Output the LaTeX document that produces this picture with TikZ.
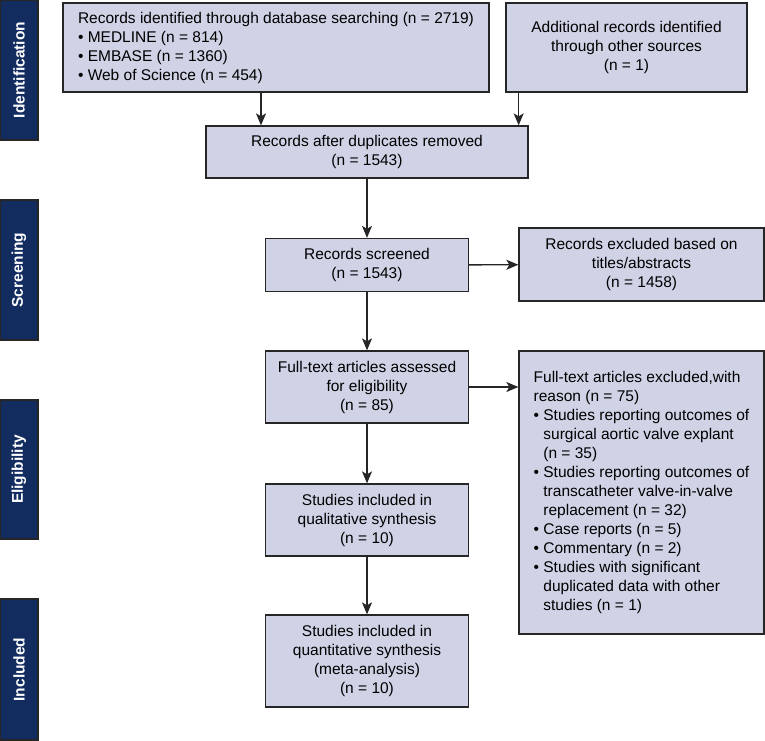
\documentclass[tikz,border=0pt]{standalone}
\usepackage{fontspec}
\setmainfont{Liberation Sans}
\usetikzlibrary{arrows.meta}
\definecolor{boxfill}{HTML}{D0D3E6}
\definecolor{phasefill}{HTML}{132C5F}
\definecolor{edge}{HTML}{262626}
\tikzset{
  box/.style={draw=edge, fill=boxfill, line width=1.3pt, inner sep=0pt, align=center,
    font=\fontsize{15.5}{19}\selectfont},
  phase/.style={draw=edge, fill=phasefill, line width=1.3pt, rotate=90, text=white,
    minimum height=38pt, inner sep=0pt, font=\fontsize{15.5}{17}\selectfont\bfseries},
  flow/.style={-{Stealth[length=12pt,width=10pt,inset=3pt]}, line width=1.4pt, draw=edge}
}
\newcommand{\bul}{\textbullet\ }
\newcommand{\hng}{\phantom{\textbullet\ }}

\begin{document}
\begin{tikzpicture}[x=1pt,y=-1pt]
  \useasboundingbox (0,0) rectangle (765,740);
  % phase bars
  \node[phase, minimum width=140pt] (idf) at (19,70) {Identification};
  \node[phase, minimum width=140pt] (scr) at (19,270) {Screening};
  \node[phase, minimum width=139pt] (elg) at (19,469.5) {Eligibility};
  \node[phase, minimum width=141pt] (inc) at (19,669.5) {Included};
  % boxes
  \node[box, minimum width=426pt, minimum height=89pt, align=left] (db) at (276,47.5)
    {Records identified through database searching (n = 2719)\\
     \bul MEDLINE (n = 814)\\
     \bul EMBASE (n = 1360)\\
     \bul Web of Science (n = 454)};
  \node[box, minimum width=241pt, minimum height=89pt] (oth) at (626.5,47.5)
    {Additional records identified\\ through other sources\\ (n = 1)};
  \node[box, minimum width=322pt, minimum height=52pt] (dup) at (367,152)
    {Records after duplicates removed\\ (n = 1543)};
  \node[box, minimum width=203pt, minimum height=53pt] (scrd) at (367,265)
    {Records screened\\ (n = 1543)};
  \node[box, minimum width=245pt, minimum height=73pt] (exc) at (641.5,264.5)
    {Records excluded based on\\ titles/abstracts\\ (n = 1458)};
  \node[box, minimum width=203pt, minimum height=72pt] (full) at (367,387)
    {Full-text articles assessed\\ for eligibility\\ (n = 85)};
  \node[box, minimum width=245pt, minimum height=283pt, align=left] (fexc) at (641.5,492.5)
    {Full-text articles excluded,with\\
     reason (n = 75)\\
     \bul Studies reporting outcomes of\\
     \hng surgical aortic valve explant\\
     \hng (n = 35)\\
     \bul Studies reporting outcomes of\\
     \hng transcatheter valve-in-valve\\
     \hng replacement (n = 32)\\
     \bul Case reports (n = 5)\\
     \bul Commentary (n = 2)\\
     \bul Studies with significant\\
     \hng duplicated data with other\\
     \hng studies (n = 1)};
  \node[box, minimum width=203pt, minimum height=72pt] (qual) at (367,520)
    {Studies included in\\ qualitative synthesis\\ (n = 10)};
  \node[box, minimum width=203pt, minimum height=92pt] (quan) at (367,661)
    {Studies included in\\ quantitative synthesis\\ (meta-analysis)\\ (n = 10)};
  % arrows
  \draw[flow] ([xshift=-15pt]db.south) -- ([xshift=-15pt]db.south |- dup.north);
  \draw[flow] ([xshift=-10pt]dup.north east |- oth.south) -- ([xshift=-10pt]dup.north east);
  \draw[flow] (dup) -- (scrd);
  \draw[flow] (scrd) -- (exc);
  \draw[flow] (scrd) -- (full);
  \draw[flow] (full) -- (fexc.west |- full);
  \draw[flow] (full) -- (qual);
  \draw[flow] (qual) -- (quan);
\end{tikzpicture}
\end{document}
